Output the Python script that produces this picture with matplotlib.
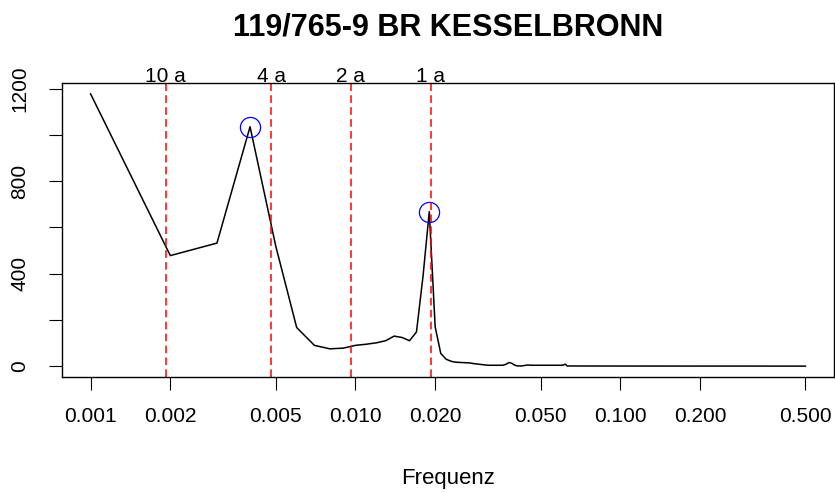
import numpy as np
import matplotlib.pyplot as plt
from matplotlib import transforms
from matplotlib.ticker import NullLocator

plt.rcParams['font.family'] = ['Liberation Sans', 'DejaVu Sans']

# periodogram of weekly values: harmonics k/1000 cycles per week
harmonic = np.arange(1, 63)
spec_low = [1177, 478, 532, 1035, 520, 167, 90, 75, 78, 90,
            95, 101, 110, 130, 124, 110, 148, 390, 668, 170,
            55, 30, 21, 17, 16, 15, 14, 11, 9, 7,
            5, 4, 4, 4, 4, 4, 8, 16, 12, 4,
            1, 1, 2, 4, 5, 4, 4, 4, 4, 4,
            4, 4, 4, 4, 4, 4, 4, 4, 4, 4,
            5, 9]
tail_freq = [0.063, 0.07, 0.08, 0.1, 0.15, 0.2, 0.3, 0.4, 0.5]
tail_spec = [1, 0.8, 0.7, 0.6, 0.5, 0.4, 0.4, 0.3, 0.3]

freq = np.concatenate([harmonic / 1000, tail_freq])
spec = np.concatenate([spec_low, tail_spec])

# marked maxima (4th and 19th harmonic)
peak_idx = [3, 18]

# reference periods in years (52 weeks per year)
periods = [10, 4, 2, 1]
period_labels = ['10 a', '4 a', '2 a', '1 a']

xticks = [0.001, 0.002, 0.005, 0.010, 0.020, 0.050, 0.100, 0.200, 0.500]
xticklabels = ['0.001', '0.002', '0.005', '0.010', '0.020',
               '0.050', '0.100', '0.200', '0.500']
yticks = [0, 200, 400, 600, 800, 1000, 1200]
yticklabels = ['0', '', '400', '', '800', '', '1200']

fig = plt.figure(figsize=(8.35, 4.93), dpi=100)
ax = fig.add_axes([62 / 835, 116 / 493, 772 / 835, 294 / 493])

ax.plot(freq, spec, color='black', lw=1.1)
ax.plot(freq[peak_idx], spec[peak_idx], 'o', mfc='none', mec='blue',
        ms=14.5, mew=0.9)

trans = transforms.blended_transform_factory(ax.transData, ax.transAxes)
for p, lab in zip(periods, period_labels):
    f = 1 / (52 * p)
    ax.axvline(f, color='red', lw=1.1, dashes=(5, 2.8))
    ax.text(f, 1.004, lab, transform=trans, ha='center', va='baseline',
            fontsize=15)

# R style axis ranges: 4 % padding on each side
ax.set_xscale('log')
lx = np.log10([freq.min(), freq.max()])
pad = 0.04 * (lx[1] - lx[0])
ax.set_xlim(10 ** (lx[0] - pad), 10 ** (lx[1] + pad))
ypad = 0.04 * (spec.max() - spec.min())
ax.set_ylim(spec.min() - ypad, spec.max() + ypad)

ax.xaxis.set_minor_locator(NullLocator())
ax.set_xticks(xticks)
ax.set_xticklabels(xticklabels)
ax.set_yticks(yticks)
ax.set_yticklabels(yticklabels)

ax.tick_params(axis='both', direction='out', length=9.5, width=0.8,
               labelsize=15, color='black')
ax.tick_params(axis='x', pad=12)
ax.tick_params(axis='y', pad=14, labelrotation=90)
for t in ax.get_yticklabels():
    t.set_verticalalignment('center')

for s in ax.spines.values():
    s.set_linewidth(1.0)
    s.set_color('black')

ax.set_xlabel('Frequenz', fontsize=16)
ax.xaxis.set_label_coords(0.5, -0.345)
ax.xaxis.label.set_verticalalignment('center')

fig.text(448 / 835, 1 - 27 / 493, '119/765-9 BR KESSELBRONN',
         fontsize=22, fontweight='bold', ha='center', va='center')

fig.savefig('out.png', dpi=100)
